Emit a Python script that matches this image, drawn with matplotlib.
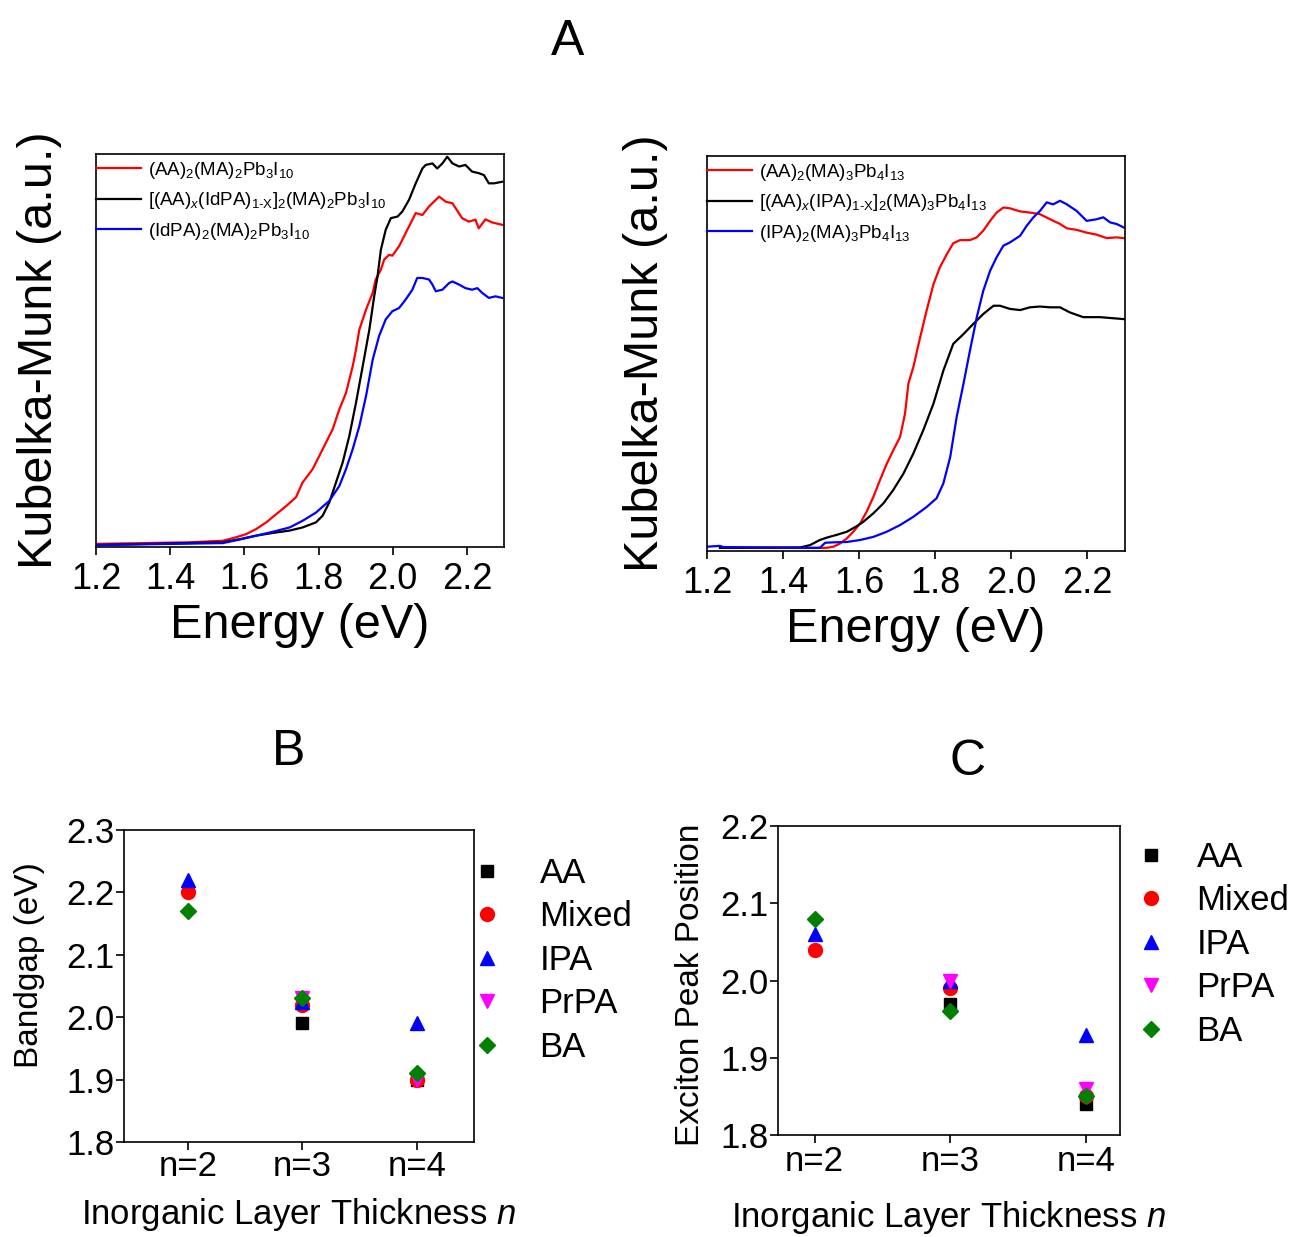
import matplotlib
matplotlib.use("Agg")
import matplotlib.pyplot as plt
import numpy as np

plt.rcParams['font.family'] = ['Liberation Sans', 'DejaVu Sans']
plt.rcParams['mathtext.fontset'] = 'custom'
plt.rcParams['mathtext.rm'] = 'Liberation Sans'
plt.rcParams['mathtext.it'] = 'Liberation Sans:italic'
plt.rcParams['mathtext.bf'] = 'Liberation Sans:bold'

# --- panel A, left: n=3 Kubelka-Munk spectra (a.u.) ---
aa_n3_x = [1.202, 1.453, 1.542, 1.578, 1.605, 1.632, 1.659, 1.686, 1.713, 1.739, 1.757, 1.784,
           1.802, 1.820, 1.838, 1.856, 1.874, 1.892, 1.901, 1.910, 1.928, 1.946, 1.954, 1.968,
           1.977, 1.990, 1.999, 2.017, 2.044, 2.062, 2.080, 2.098, 2.125, 2.143, 2.161, 2.187,
           2.205, 2.223, 2.232, 2.250, 2.268, 2.295]
aa_n3_y = [0.003, 0.007, 0.011, 0.020, 0.028, 0.041, 0.058, 0.079, 0.100, 0.122, 0.160, 0.194,
           0.228, 0.262, 0.296, 0.347, 0.389, 0.457, 0.500, 0.551, 0.602, 0.645, 0.679, 0.704,
           0.730, 0.742, 0.740, 0.764, 0.815, 0.849, 0.844, 0.866, 0.891, 0.878, 0.874, 0.836,
           0.827, 0.832, 0.810, 0.833, 0.825, 0.819]

mix_n3_x = [1.202, 1.542, 1.587, 1.632, 1.677, 1.722, 1.757, 1.793, 1.811, 1.829, 1.847, 1.865,
            1.883, 1.901, 1.919, 1.937, 1.950, 1.959, 1.968, 1.981, 1.995, 2.013, 2.026, 2.044,
            2.062, 2.080, 2.089, 2.107, 2.120, 2.134, 2.147, 2.161, 2.179, 2.196, 2.214, 2.232,
            2.246, 2.259, 2.273, 2.295]
mix_n3_y = [0.000, 0.007, 0.015, 0.024, 0.031, 0.037, 0.045, 0.058, 0.075, 0.109, 0.160, 0.211,
            0.279, 0.364, 0.457, 0.551, 0.636, 0.687, 0.755, 0.806, 0.836, 0.840, 0.853, 0.883,
            0.925, 0.963, 0.972, 0.976, 0.963, 0.976, 0.993, 0.976, 0.968, 0.972, 0.955, 0.951,
            0.946, 0.925, 0.925, 0.929]

idpa_n3_x = [1.202, 1.542, 1.587, 1.632, 1.677, 1.722, 1.757, 1.793, 1.829, 1.856, 1.874, 1.892,
             1.910, 1.928, 1.946, 1.963, 1.981, 1.999, 2.017, 2.035, 2.053, 2.066, 2.080, 2.098,
             2.107, 2.116, 2.134, 2.152, 2.161, 2.179, 2.196, 2.214, 2.228, 2.241, 2.259, 2.277,
             2.295]
idpa_n3_y = [0.000, 0.005, 0.014, 0.024, 0.034, 0.045, 0.062, 0.083, 0.113, 0.151, 0.194, 0.245,
             0.304, 0.381, 0.474, 0.534, 0.577, 0.598, 0.606, 0.628, 0.653, 0.683, 0.683, 0.679,
             0.666, 0.649, 0.653, 0.670, 0.674, 0.666, 0.657, 0.653, 0.657, 0.645, 0.632, 0.636,
             0.632]

# --- panel A, right: n=4 spectra ---
aa_n4_x = [1.240, 1.515, 1.533, 1.550, 1.568, 1.585, 1.603, 1.620, 1.638, 1.655, 1.673, 1.690,
           1.708, 1.721, 1.730, 1.743, 1.761, 1.778, 1.796, 1.813, 1.831, 1.848, 1.866, 1.892,
           1.910, 1.927, 1.945, 1.962, 1.980, 1.997, 2.024, 2.050, 2.076, 2.103, 2.129, 2.147,
           2.173, 2.199, 2.225, 2.252, 2.278, 2.297]
aa_n4_y = [0.003, 0.003, 0.006, 0.014, 0.027, 0.044, 0.065, 0.095, 0.133, 0.175, 0.217, 0.251,
           0.285, 0.344, 0.421, 0.463, 0.539, 0.607, 0.674, 0.717, 0.750, 0.778, 0.786, 0.786,
           0.793, 0.810, 0.835, 0.856, 0.869, 0.867, 0.859, 0.856, 0.852, 0.839, 0.827, 0.816,
           0.812, 0.805, 0.800, 0.791, 0.793, 0.791]

mix_n4_x = [1.234, 1.445, 1.471, 1.497, 1.515, 1.541, 1.568, 1.594, 1.611, 1.638, 1.664, 1.690,
            1.717, 1.743, 1.769, 1.796, 1.822, 1.848, 1.875, 1.901, 1.927, 1.954, 1.971, 1.997,
            2.024, 2.050, 2.076, 2.103, 2.129, 2.155, 2.190, 2.234, 2.297]
mix_n4_y = [0.003, 0.004, 0.010, 0.023, 0.029, 0.036, 0.044, 0.058, 0.069, 0.091, 0.116, 0.150,
            0.192, 0.243, 0.302, 0.370, 0.454, 0.522, 0.547, 0.573, 0.598, 0.619, 0.619, 0.611,
            0.608, 0.615, 0.617, 0.615, 0.615, 0.602, 0.590, 0.590, 0.585]

ipa_n4_x = [1.201, 1.234, 1.243, 1.445, 1.497, 1.511, 1.533, 1.568, 1.603, 1.638, 1.673, 1.708,
            1.743, 1.778, 1.804, 1.822, 1.840, 1.857, 1.875, 1.892, 1.910, 1.927, 1.945, 1.962,
            1.980, 1.997, 2.024, 2.041, 2.059, 2.076, 2.094, 2.111, 2.129, 2.147, 2.173, 2.199,
            2.225, 2.243, 2.261, 2.278, 2.297]
ipa_n4_y = [0.006, 0.008, 0.005, 0.003, 0.003, 0.016, 0.017, 0.018, 0.023, 0.031, 0.044, 0.061,
            0.082, 0.107, 0.129, 0.167, 0.234, 0.336, 0.421, 0.505, 0.590, 0.657, 0.708, 0.742,
            0.772, 0.780, 0.797, 0.822, 0.844, 0.860, 0.882, 0.877, 0.886, 0.877, 0.860, 0.835,
            0.839, 0.844, 0.831, 0.827, 0.818]

# --- panels B and C: bandgap and exciton peak vs n ---
n_labels = ['n=2', 'n=3', 'n=4']
groups = ['AA', 'Mixed', 'IPA', 'PrPA', 'BA']
bandgap = {
    'AA':    [np.nan, 1.99, 1.90],
    'Mixed': [2.20, 2.02, 1.90],
    'IPA':   [2.22, 2.025, 1.99],
    'PrPA':  [np.nan, 2.03, 1.90],
    'BA':    [2.17, 2.03, 1.91],
}
exciton = {
    'AA':    [np.nan, 1.97, 1.84],
    'Mixed': [2.04, 1.99, 1.85],
    'IPA':   [2.06, 2.00, 1.93],
    'PrPA':  [np.nan, 2.00, 1.86],
    'BA':    [2.08, 1.96, 1.85],
}

W, H = 1289, 1237


def px_axes(fig, left, top, right, bottom):
    return fig.add_axes([left / W, 1 - bottom / H, (right - left) / W, (bottom - top) / H])


fig = plt.figure(figsize=(W / 100, H / 100), dpi=100)
fig.patch.set_facecolor('white')

# ---------- panel A ----------
spec_sets = [
    (px_axes(fig, 96, 154, 504, 547),
     [(aa_n3_x, aa_n3_y, 'red', r'(AA)$_2$(MA)$_2$Pb$_3$I$_{10}$'),
      (mix_n3_x, mix_n3_y, 'black', r'[(AA)$_x$(IdPA)$_{\mathregular{1\text{-}X}}$]$_2$(MA)$_2$Pb$_3$I$_{10}$'),
      (idpa_n3_x, idpa_n3_y, 'blue', r'(IdPA)$_2$(MA)$_2$Pb$_3$I$_{10}$')],
     -0.083),
    (px_axes(fig, 707, 156, 1125, 551),
     [(aa_n4_x, aa_n4_y, 'red', r'(AA)$_2$(MA)$_3$Pb$_4$I$_{13}$'),
      (mix_n4_x, mix_n4_y, 'black', r'[(AA)$_x$(IPA)$_{\mathregular{1\text{-}X}}$]$_2$(MA)$_3$Pb$_4$I$_{13}$'),
      (ipa_n4_x, ipa_n4_y, 'blue', r'(IPA)$_2$(MA)$_3$Pb$_4$I$_{13}$')],
     -0.093),
]

for ax, curves, ylab_x in spec_sets:
    for x, y, c, lab in curves:
        ax.plot(x, y, color=c, lw=1.6, label=lab)
    ax.set_xlim(1.2, 2.3)
    ax.set_ylim(-0.005, 1.0)
    ax.set_xticks([1.2, 1.4, 1.6, 1.8, 2.0, 2.2])
    ax.set_xticklabels(['1.2', '1.4', '1.6', '1.8', '2.0', '2.2'])
    ax.set_yticks([])
    ax.tick_params(axis='x', direction='out', length=6, width=1.2, labelsize=26, pad=5)
    for s in ax.spines.values():
        s.set_linewidth(1.2)
    ax.set_xlabel('Energy (eV)', fontsize=35, labelpad=4)
    ax.set_ylabel('Kubelka-Munk (a.u.)', fontsize=35)
    ax.yaxis.set_label_coords(ylab_x, 0.5)
    ax.legend(loc='upper left', bbox_to_anchor=(0, 0.985), frameon=False, fontsize=13.5,
              handlelength=2.4, handletextpad=0.35, borderpad=0, borderaxespad=0,
              labelspacing=0.5)

fig.text(568 / W, 1 - 42 / H, 'A', ha='center', va='center', fontsize=36)

# ---------- panels B and C ----------
styles = {
    'AA':    ('s', 'black', 8),
    'Mixed': ('o', 'red', 10),
    'IPA':   ('^', 'blue', 10),
    'PrPA':  ('v', 'magenta', 10),
    'BA':    ('D', 'green', 8),
}

axB = px_axes(fig, 124, 830, 474, 1142)
axC = px_axes(fig, 778, 826, 1120, 1135)

panels = [
    (axB, bandgap, 'Bandgap (eV)', (1.8, 2.3), (0.44, 3.5), (-0.226, 0.567), 477, 857, 0, 9, 1.2),
    (axC, exciton, 'Exciton Peak Position', (1.8, 2.2), (0.73, 3.25), (-0.21, 0.485), 1141, 841, 1, 15, 1.0),
]

for ax, vals, ylab, ylim, xlim, ylc, leg_x, leg_y, xpad, xlpad, htp in panels:
    xs = np.arange(1, len(n_labels) + 1)
    for g in groups:
        m, c, ms = styles[g]
        ax.plot(xs, vals[g], ls='none', marker=m, color=c, ms=ms, label=g)
    ax.set_xlim(*xlim)
    ax.set_ylim(*ylim)
    ax.set_xticks(xs)
    ax.set_xticklabels(n_labels)
    ticks = np.arange(ylim[0], ylim[1] + 0.001, 0.1)
    ax.set_yticks(ticks)
    ax.set_yticklabels(['%.1f' % v for v in ticks])
    ax.tick_params(direction='out', length=6, width=1.2, labelsize=25)
    ax.tick_params(axis='x', pad=xpad)
    ax.tick_params(axis='y', pad=1)
    for s in ax.spines.values():
        s.set_linewidth(1.2)
    ax.set_ylabel(ylab, fontsize=24)
    ax.yaxis.set_label_coords(*ylc)
    ax.set_xlabel(r'Inorganic Layer Thickness $\mathit{n}$', fontsize=25, labelpad=xlpad)
    fig.legend(*ax.get_legend_handles_labels(), loc='upper left',
               bbox_to_anchor=(leg_x / W, 1 - leg_y / H), frameon=False, fontsize=25,
               handlelength=0.6, handletextpad=htp, borderpad=0, borderaxespad=0,
               labelspacing=0.3)

fig.text(289 / W, 1 - 752 / H, 'B', ha='center', va='center', fontsize=36)
fig.text(968 / W, 1 - 762 / H, 'C', ha='center', va='center', fontsize=36)

fig.savefig('out.png', dpi=100, facecolor='white')
